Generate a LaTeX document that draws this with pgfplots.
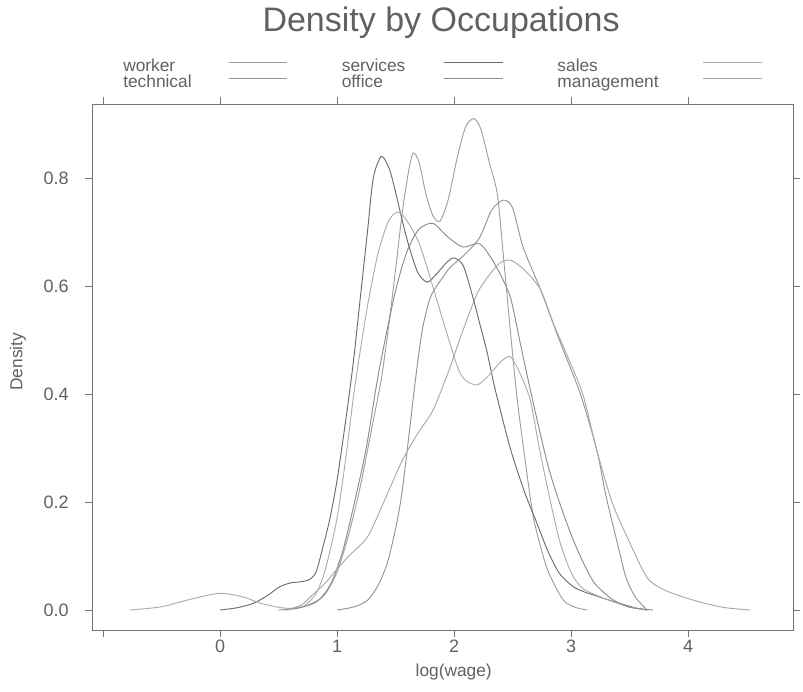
\documentclass[border=0pt]{standalone}
\usepackage{pgfplots}
\pgfplotsset{compat=1.18}
\usepackage{fontspec}
\setmainfont{Liberation Sans}
\definecolor{txt}{gray}{0.38}
\definecolor{frm}{gray}{0.45}
\definecolor{cwork}{gray}{0.62}
\definecolor{cserv}{gray}{0.42}
\definecolor{csale}{gray}{0.68}
\definecolor{ctech}{gray}{0.58}
\definecolor{coffi}{gray}{0.55}
\definecolor{cmana}{gray}{0.66}
\begin{document}
\begin{tikzpicture}
\useasboundingbox (-69pt,-46.5pt) rectangle (533.25pt,472.5pt);
\begin{axis}[
  at={(0,0)}, anchor=south west,
  scale only axis, width=525.75pt, height=394.5pt,
  xmin=-1.094, xmax=4.897, ymin=-0.037, ymax=0.937,
  axis line style={frm, line width=0.6pt},
  xtick={-1,0,1,2,3,4}, xticklabels={,0,1,2,3,4},
  ytick={0,0.2,0.4,0.6,0.8},
  yticklabel style={/pgf/number format/.cd, fixed, fixed zerofill, precision=1},
  /pgf/number format/assume math mode=true,
  tick pos=both, xticklabel pos=lower, yticklabel pos=left,
  tick align=outside, major tick length=5pt,
  tick style={frm, line width=0.6pt},
  ticklabel style={font=\fontsize{13.5}{15}\selectfont, text=txt},
  yticklabel shift=9pt,
  xticklabel shift=-1pt,
  title={Density by Occupations},
  title style={at={(0.498,1.158)}, anchor=center, yshift=-7.5pt, font=\fontsize{25.5}{29}\selectfont, text=txt},
  xlabel={log(wage)},
  xlabel style={at={(0.516,-0.08)}, anchor=center, font=\fontsize{13}{15}\selectfont, text=txt},
  ylabel={Density},
  ylabel style={at={(-0.1056,0.51)}, anchor=center, rotate=0, font=\fontsize{13}{15}\selectfont, text=txt},
  legend columns=3,
  legend plot pos=right,
  legend image code/.code={\draw[#1] (0pt,3.5pt) -- (44pt,3.5pt);},
  legend style={at={(0.0385,1.091)}, anchor=north west, draw=none, fill=none,
    font=\fontsize{13}{15}\selectfont, text=txt,
    nodes={inner sep=0pt, text height=9pt, text depth=3pt, align=left},
    column sep=0pt, row sep=0pt,
    /tikz/column 1/.style={nodes={text width=78.75pt}},
    /tikz/column 3/.style={nodes={text width=76.5pt}},
    /tikz/column 5/.style={nodes={text width=108.75pt}},
    /tikz/every even column/.append style={column sep=40.5pt}},
  every axis plot/.append style={line width=0.7pt, smooth, tension=0.45},
]
% worker (B)
\addplot[cwork] coordinates {(0.5,0) (0.65,0.004) (0.8,0.012) (0.9,0.03) (1.0,0.07) (1.1,0.14) (1.2,0.23) (1.3,0.34) (1.38,0.43) (1.45,0.54) (1.5,0.63) (1.56,0.74) (1.61,0.81) (1.65,0.846) (1.7,0.83) (1.76,0.77) (1.82,0.73) (1.88,0.72) (1.95,0.76) (2.03,0.84) (2.1,0.895) (2.17,0.91) (2.23,0.89) (2.3,0.83) (2.37,0.77) (2.42,0.66) (2.48,0.52) (2.54,0.39) (2.6,0.29) (2.68,0.17) (2.79,0.08) (2.9,0.03) (2.96,0.013) (3.05,0.004) (3.14,0)};
\addlegendentry{worker}
% services (A)
\addplot[cserv] coordinates {(0,0) (0.14,0.004) (0.28,0.012) (0.4,0.026) (0.51,0.043) (0.6,0.05) (0.68,0.052) (0.76,0.056) (0.82,0.07) (0.88,0.117) (0.94,0.17) (1.0,0.24) (1.08,0.36) (1.14,0.46) (1.2,0.58) (1.26,0.70) (1.31,0.80) (1.38,0.84) (1.45,0.815) (1.51,0.765) (1.57,0.71) (1.62,0.67) (1.69,0.625) (1.77,0.607) (1.85,0.622) (1.93,0.642) (2.0,0.652) (2.08,0.637) (2.16,0.58) (2.22,0.53) (2.28,0.48) (2.35,0.41) (2.48,0.30) (2.6,0.22) (2.71,0.16) (2.8,0.11) (2.9,0.068) (3.02,0.043) (3.12,0.033) (3.19,0.028) (3.3,0.02) (3.42,0.012) (3.55,0.004) (3.65,0)};
\addlegendentry{services}
% sales (C)
\addplot[csale] coordinates {(-0.77,0) (-0.5,0.006) (-0.25,0.02) (0,0.031) (0.2,0.024) (0.34,0.013) (0.5,0.005) (0.62,0.003) (0.72,0.008) (0.82,0.03) (0.9,0.075) (1.0,0.17) (1.08,0.29) (1.15,0.41) (1.25,0.55) (1.35,0.66) (1.44,0.72) (1.52,0.737) (1.6,0.72) (1.7,0.68) (1.79,0.62) (1.9,0.54) (2.03,0.45) (2.1,0.425) (2.2,0.417) (2.3,0.435) (2.4,0.46) (2.48,0.469) (2.56,0.44) (2.65,0.39) (2.72,0.31) (2.79,0.235) (2.9,0.13) (3.0,0.07) (3.1,0.04) (3.3,0.02) (3.5,0.006) (3.65,0)};
\addlegendentry{sales}
% technical (E)
\addplot[ctech] coordinates {(1.0,0) (1.15,0.006) (1.26,0.018) (1.35,0.045) (1.43,0.087) (1.5,0.15) (1.55,0.21) (1.6,0.296) (1.67,0.426) (1.73,0.52) (1.8,0.58) (1.9,0.615) (1.97,0.635) (2.1,0.66) (2.22,0.69) (2.32,0.74) (2.42,0.759) (2.5,0.745) (2.59,0.672) (2.74,0.593) (2.9,0.5) (3.08,0.40) (3.22,0.296) (3.3,0.21) (3.4,0.12) (3.47,0.06) (3.55,0.024) (3.65,0)};
\addlegendentry{technical}
% office (D)
\addplot[coffi] coordinates {(0.55,0) (0.7,0.005) (0.85,0.02) (0.95,0.05) (1.05,0.11) (1.15,0.2) (1.25,0.3) (1.34,0.42) (1.42,0.51) (1.51,0.6) (1.6,0.665) (1.7,0.705) (1.82,0.716) (1.95,0.69) (2.08,0.672) (2.22,0.678) (2.35,0.64) (2.48,0.58) (2.57,0.49) (2.67,0.39) (2.8,0.27) (2.9,0.2) (3.0,0.14) (3.1,0.09) (3.2,0.05) (3.35,0.02) (3.5,0.005) (3.7,0)};
\addlegendentry{office}
% management (F)
\addplot[cmana] coordinates {(0.57,0) (0.7,0.01) (0.8,0.03) (0.9,0.05) (0.97,0.068) (1.1,0.1) (1.26,0.135) (1.4,0.2) (1.56,0.278) (1.7,0.33) (1.82,0.37) (1.95,0.44) (2.08,0.52) (2.2,0.587) (2.3,0.62) (2.39,0.642) (2.48,0.648) (2.6,0.63) (2.74,0.593) (2.85,0.53) (2.97,0.47) (3.1,0.40) (3.22,0.296) (3.35,0.2) (3.48,0.135) (3.65,0.06) (3.8,0.037) (3.96,0.024) (4.15,0.012) (4.33,0.004) (4.53,0)};
\addlegendentry{management}
\end{axis}
\end{tikzpicture}
\end{document}
